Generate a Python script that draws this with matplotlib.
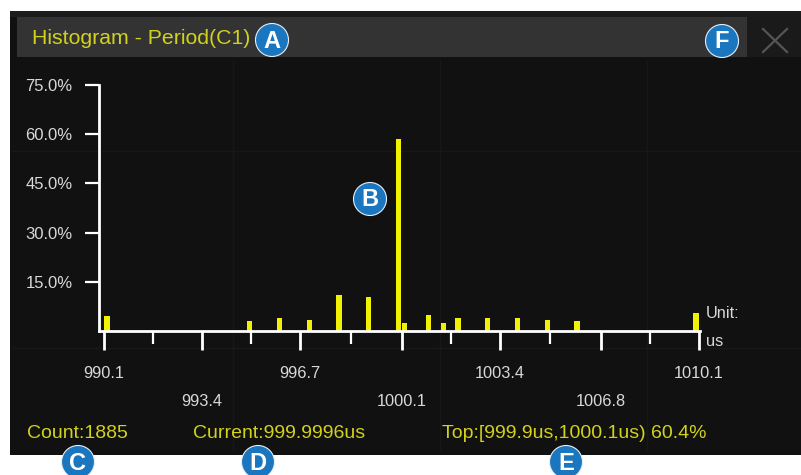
import matplotlib.pyplot as plt
from matplotlib.patches import Rectangle, Circle

bin_centers = [990.2, 995.0, 996.0, 997.0, 998.0, 999.0, 1000.0, 1000.2,
               1001.0, 1001.5, 1002.0, 1003.0, 1004.0, 1005.0, 1006.0, 1010.0]
bin_pct = [4.7, 3.2, 4.0, 3.5, 11.1, 10.5, 58.6, 2.5,
           5.0, 2.5, 4.0, 4.0, 4.0, 3.5, 3.0, 5.5]
bin_width = 0.17

y_ticks = [15, 30, 45, 60, 75]
y_labels = ["15.0%", "30.0%", "45.0%", "60.0%", "75.0%"]
x_major = [990.1, 993.4, 996.7, 1000.1, 1003.4, 1006.8, 1010.1]
x_labels = ["990.1", "993.4", "996.7", "1000.1", "1003.4", "1006.8", "1010.1"]
x_minor = [991.75, 995.05, 998.4, 1001.75, 1005.1, 1008.45]

title = "Histogram - Period(C1)"
count_txt = "Count:1885"
current_txt = "Current:999.9996us"
top_txt = "Top:[999.9us,1000.1us) 60.4%"

W, H = 801, 475
plt.rcParams['font.family'] = ['Liberation Sans', 'DejaVu Sans']
fig = plt.figure(figsize=(W / 100, H / 100), dpi=100, facecolor='white')

# fond en coordonnées pixels
bg = fig.add_axes([0, 0, 1, 1], zorder=0)
bg.set_xlim(0, W)
bg.set_ylim(H, 0)
bg.axis('off')

bg.add_patch(Rectangle((10, 11), W - 10, 444, color='#111111', lw=0))
bg.add_patch(Rectangle((10, 11), W - 10, 6, color='#1c1c1c', lw=0))
bg.add_patch(Rectangle((17, 17), 730, 40, color='#333333', lw=0))
bg.add_patch(Rectangle((747, 17), W - 747, 40, color='#1a1a1a', lw=0))
bg.plot([763, 787], [29, 52], color='#555555', lw=1.6)
bg.plot([763, 787], [52, 29], color='#555555', lw=1.6)

# graticule très discret
for gx in [233, 440, 647]:
    bg.plot([gx, gx], [60, 450], color='#181818', lw=1, solid_capstyle='butt')
for gy in [151, 348]:
    bg.plot([12, W], [gy, gy], color='#181818', lw=1, solid_capstyle='butt')

bg.text(32, 38, title, color='#d2d21c', fontsize=15.3, va='center', ha='left')
bg.text(27, 434, count_txt, color='#d2d21c', fontsize=14, va='center', ha='left')
bg.text(193, 434, current_txt, color='#d2d21c', fontsize=14, va='center', ha='left')
bg.text(442, 434, top_txt, color='#d2d21c', fontsize=14, va='center', ha='left')
bg.text(706, 313, "Unit:", color='#d8d8d8', fontsize=11.8, va='center', ha='left')
bg.text(706, 341, "us", color='#d8d8d8', fontsize=11.8, va='center', ha='left')

# pastilles A-F
for (cx, cy, letter) in [(272, 40, 'A'), (722, 41, 'F'), (370, 199, 'B'),
                         (78, 462, 'C'), (258, 462, 'D'), (566, 462, 'E')]:
    bg.add_patch(Circle((cx, cy), 16.5, facecolor='#1b76c0', edgecolor='#e8eef5', lw=0.8, zorder=5))
    bg.text(cx, cy + 1, letter, color='white', fontsize=17, fontweight='bold',
            ha='center', va='center', zorder=6)

# axes de l'histogramme
px_per_us = (699 - 104) / 20.0
left, right, top, bottom = 99, 700, 85, 331
ax = fig.add_axes([left / W, 1 - bottom / H, (right - left) / W, (bottom - top) / H], zorder=1)
ax.set_facecolor('none')
ax.set_xlim(990.1 - (104 - left) / px_per_us, 1010.1 + (right - 699) / px_per_us)
ax.set_ylim(0, 75)

ax.bar(bin_centers, bin_pct, width=bin_width, color='#f2f200', lw=0, zorder=2)

for s in ['top', 'right']:
    ax.spines[s].set_visible(False)
for s in ['left', 'bottom']:
    ax.spines[s].set_color('white')
    ax.spines[s].set_linewidth(2)
    ax.spines[s].set_zorder(3)

ax.set_yticks(y_ticks)
ax.set_yticklabels(y_labels)
ax.tick_params(axis='y', colors='white', labelcolor='#d8d8d8', length=10, width=1.6,
               pad=9, labelsize=12)

ax.set_xticks(x_major)
ax.set_xticklabels(x_labels)
ax.set_xticks(x_minor, minor=True)
ax.tick_params(axis='x', which='major', colors='white', labelcolor='#d8d8d8', length=14,
               width=2, pad=11, labelsize=11.8)
ax.tick_params(axis='x', which='minor', colors='white', length=9, width=1.6)
for t in ax.xaxis.get_major_ticks()[1::2]:
    t.set_pad(31)

fig.savefig("out.png", dpi=100, facecolor='white')
